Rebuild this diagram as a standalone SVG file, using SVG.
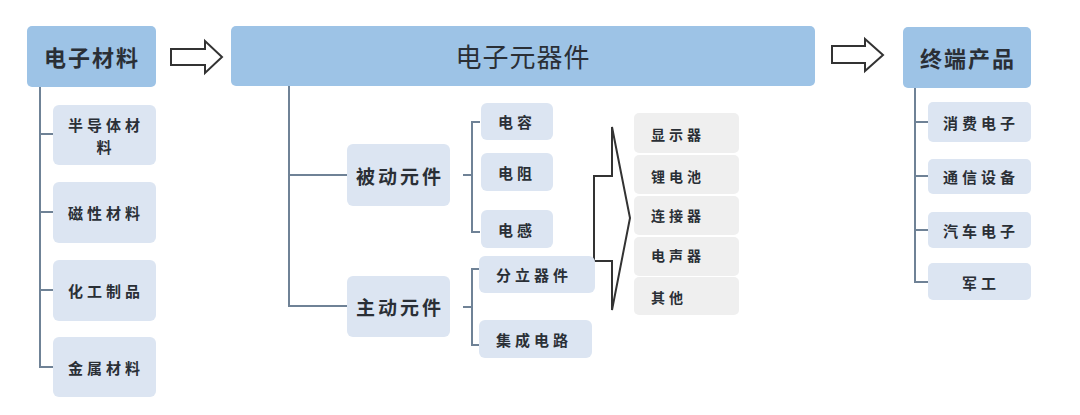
<svg xmlns="http://www.w3.org/2000/svg" width="1080" height="415" viewBox="0 0 1080 415">
<style>
.hdr{fill:#9dc3e6}
.sub{fill:#dce5f2}
.gry{fill:#efefef}
.ln{fill:none;stroke:#6f8296;stroke-width:2}
.arr{fill:#fff;stroke:#333;stroke-width:2;stroke-linejoin:miter}
text{font-family:"Noto Sans CJK SC","Noto Sans",sans-serif;fill:#2a2f36;text-anchor:middle;dominant-baseline:central}
.t1{font-size:22px;font-weight:700;letter-spacing:2px}
.t0{font-size:26px;font-weight:400;letter-spacing:1px}
.t2{font-size:19px;font-weight:700;letter-spacing:3px}
.t3{font-size:15px;font-weight:700;letter-spacing:4px}
.t4{font-size:14px;font-weight:700;letter-spacing:4px;text-anchor:start}
</style>
<rect width="1080" height="415" fill="#fff"/>
<g id="connectors">
<path class="ln" d="M40 87V367H53M40 134H53M40 212H53M40 290H53"/>
<path class="ln" d="M289 86V306H347M289 175H347"/>
<path class="ln" d="M463 175H472M480 122H472V232H480"/>
<path class="ln" d="M463 307H472M480 269H472V345H480"/>
<path class="ln" d="M915 88V282H928M915 122H928M915 176H928M915 230H928"/>
<path class="arr" d="M171 49H205V41L222 57L205 73V65H171Z"/>
<path class="arr" d="M832 46H865V39L883 55L865 71V63H832Z"/>
<path class="arr" d="M594 176H612V127L630 218L612 310V261H594Z"/>
</g>
<g id="n-material"><rect class="hdr" x="27" y="26" width="129" height="61" rx="5"/><text class="t1" x="92" y="56">电子材料</text></g>
<g id="n-semi"><rect class="sub" x="53" y="105" width="103" height="60" rx="6"/><text class="t3" x="106" y="124">半导体材</text><text class="t3" x="106" y="146">料</text></g>
<g id="n-magnetic"><rect class="sub" x="53" y="182" width="103" height="61" rx="6"/><text class="t3" x="106" y="212">磁性材料</text></g>
<g id="n-chem"><rect class="sub" x="53" y="260" width="103" height="61" rx="6"/><text class="t3" x="106" y="290">化工制品</text></g>
<g id="n-metal"><rect class="sub" x="53" y="337" width="103" height="60" rx="6"/><text class="t3" x="106" y="367">金属材料</text></g>
<g id="n-component"><rect class="hdr" x="231" y="26" width="584" height="60" rx="5"/><text class="t0" x="523" y="55">电子元器件</text></g>
<g id="n-passive"><rect class="sub" x="347" y="144" width="103" height="62" rx="6"/><text class="t2" x="400" y="175">被动元件</text></g>
<g id="n-active"><rect class="sub" x="347" y="276" width="103" height="61" rx="6"/><text class="t2" x="400" y="306">主动元件</text></g>
<g id="n-cap"><rect class="sub" x="481" y="103" width="72" height="37" rx="6"/><text class="t3" x="517" y="121">电容</text></g>
<g id="n-res"><rect class="sub" x="481" y="153" width="72" height="38" rx="6"/><text class="t3" x="517" y="172">电阻</text></g>
<g id="n-ind"><rect class="sub" x="481" y="210" width="72" height="38" rx="6"/><text class="t3" x="517" y="229">电感</text></g>
<g id="n-discrete"><rect class="sub" x="479" y="256" width="116" height="37" rx="6"/><text class="t3" x="534" y="274">分立器件</text></g>
<g id="n-ic"><rect class="sub" x="479" y="320" width="113" height="38" rx="6"/><text class="t3" x="534" y="339">集成电路</text></g>
<g id="n-display"><rect class="gry" x="634" y="113" width="105" height="40" rx="5"/><text class="t4" x="651" y="134">显示器</text></g>
<g id="n-battery"><rect class="gry" x="634" y="155" width="105" height="39" rx="5"/><text class="t4" x="651" y="176">锂电池</text></g>
<g id="n-connector"><rect class="gry" x="634" y="196" width="105" height="39" rx="5"/><text class="t4" x="651" y="215">连接器</text></g>
<g id="n-acoustic"><rect class="gry" x="634" y="237" width="105" height="39" rx="5"/><text class="t4" x="651" y="255">电声器</text></g>
<g id="n-other"><rect class="gry" x="634" y="277" width="105" height="38" rx="5"/><text class="t4" x="651" y="297">其他</text></g>
<g id="n-terminal"><rect class="hdr" x="903" y="27" width="128" height="61" rx="5"/><text class="t1" x="968" y="57">终端产品</text></g>
<g id="n-consumer"><rect class="sub" x="928" y="102" width="103" height="40" rx="5"/><text class="t3" x="981" y="122">消费电子</text></g>
<g id="n-telecom"><rect class="sub" x="928" y="159" width="103" height="35" rx="5"/><text class="t3" x="981" y="176">通信设备</text></g>
<g id="n-auto"><rect class="sub" x="928" y="212" width="103" height="36" rx="5"/><text class="t3" x="981" y="230">汽车电子</text></g>
<g id="n-military"><rect class="sub" x="928" y="263" width="103" height="37" rx="5"/><text class="t3" x="981" y="282">军工</text></g>
</svg>
